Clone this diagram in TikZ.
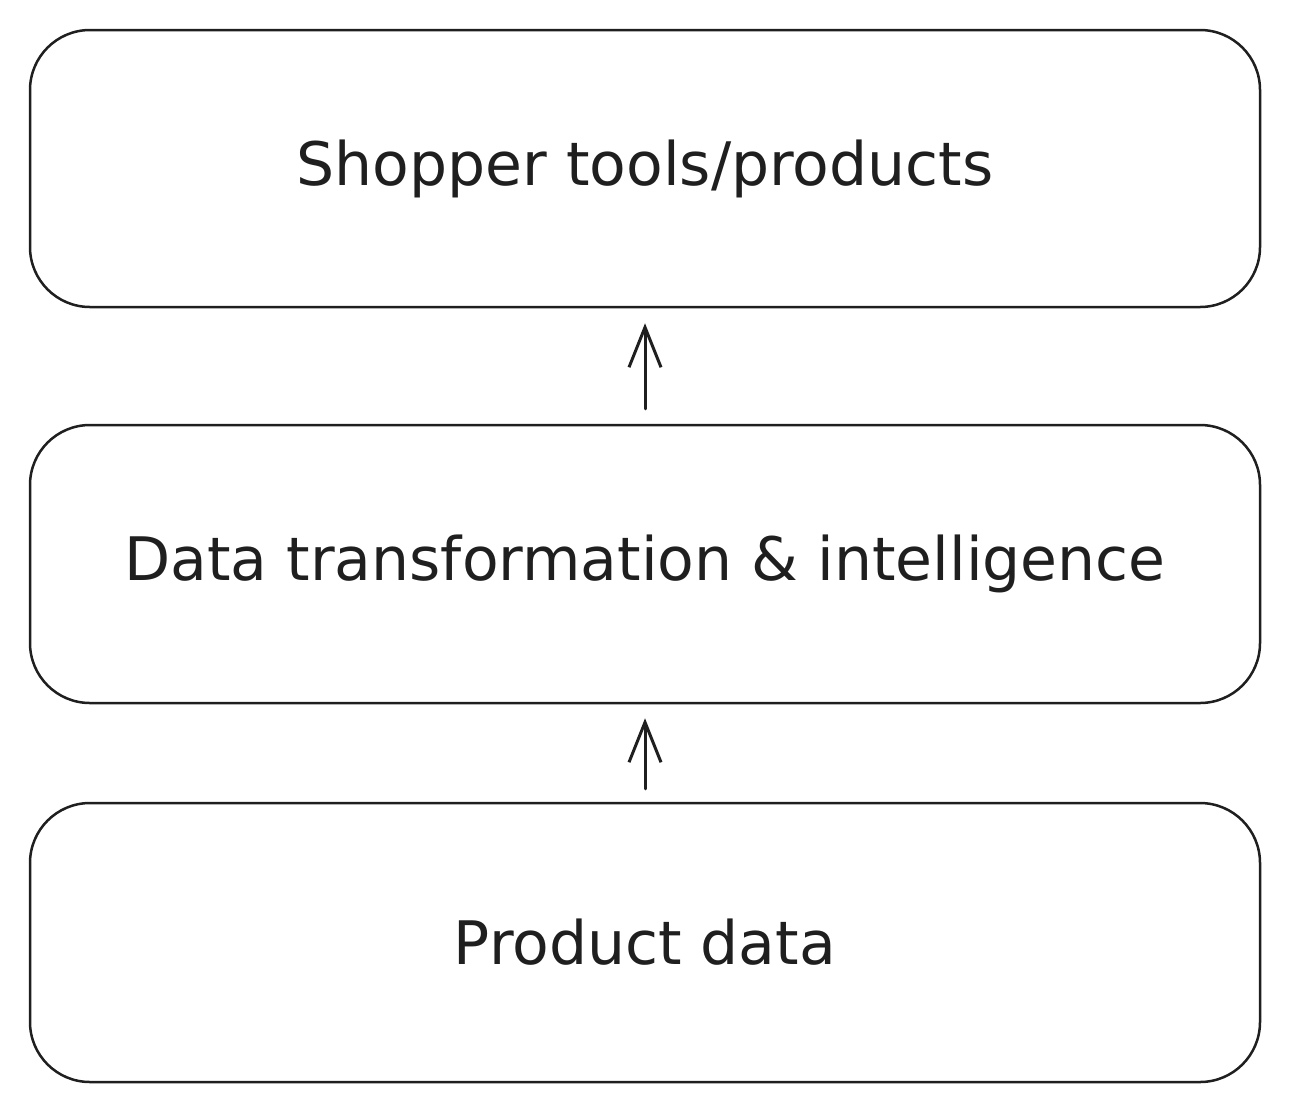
\documentclass[tikz,border=0pt]{standalone}
\usepackage{fontspec}
\setmainfont{DejaVu Sans}
\usetikzlibrary{arrows.meta}

\tikzset{
  layerbox/.style={draw=black!88, line width=2.5pt, rounded corners=60pt,
    minimum width=1230pt, inner sep=0pt,
    font=\fontsize{60}{70}\selectfont, text=black!88},
  uparrow/.style={draw=black!88, line width=3pt, shorten >=15pt, shorten <=15pt,
    -{Straight Barb[length=40pt,width=32pt,line width=3pt]}}
}

\begin{document}
\begin{tikzpicture}[x=1pt, y=-1pt, line cap=round, line join=round]

  %% ════ 三层框 ════
  \node[layerbox, minimum height=277pt] (shop) at (645,168.5) {Shopper tools/products};
  \node[layerbox, minimum height=278pt] (intel) at (645,564) {Data transformation \& intelligence};
  \node[layerbox, minimum height=279pt] (prod) at (645,942.5) {Product data};

  %% ════ 箭头 ════
  \draw[uparrow] (intel.north) -- (shop.south);
  \draw[uparrow, shorten >=14pt, shorten <=13pt] (prod.north) -- (intel.south);

  % 钉死画布
  \pgfresetboundingbox
  \path[use as bounding box] (0,0) rectangle (1290,1112);
\end{tikzpicture}
\end{document}
